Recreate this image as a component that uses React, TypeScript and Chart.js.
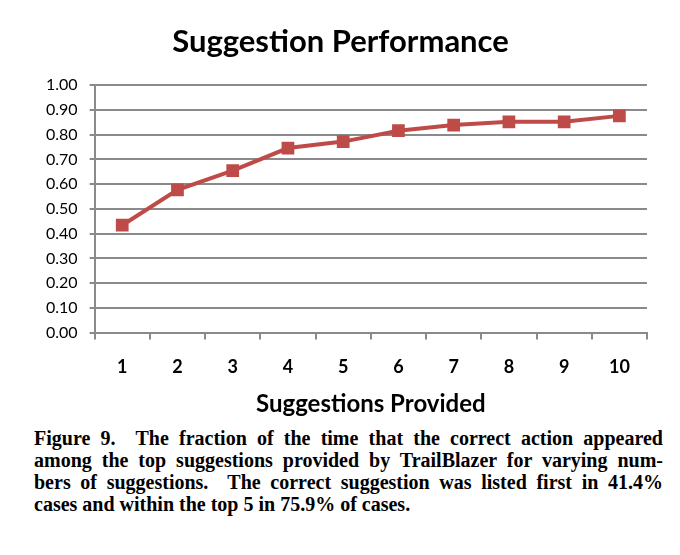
import { useEffect, useRef } from "react";
import { Chart, registerables } from "chart.js";
import type { ChartConfiguration } from "chart.js";

Chart.register(...registerables);

const suggestions = ["1", "2", "3", "4", "5", "6", "7", "8", "9", "10"];
const performance = [0.434, 0.577, 0.655, 0.746, 0.772, 0.816, 0.839, 0.852, 0.852, 0.876];

const captionLines = [
  "Figure 9.  The fraction of the time that the correct action appeared",
  "among the top suggestions provided by TrailBlazer for varying num-",
  "bers of suggestions.  The correct suggestion was listed first in 41.4%",
  "cases and within the top 5 in 75.9% of cases.",
];

const GRID = "#8a8a8a";
const RED = "#be4b48";
const FONT = "Lato, 'Open Sans', sans-serif";

function SuggestionChart() {
  const canvasRef = useRef<HTMLCanvasElement>(null);
  const chartRef = useRef<Chart | null>(null);

  useEffect(() => {
    if (!canvasRef.current) return;
    if (chartRef.current) chartRef.current.destroy();

    const config: ChartConfiguration = {
      type: "line",
      data: {
        labels: suggestions,
        datasets: [
          {
            label: "Performance",
            data: performance,
            borderColor: RED,
            backgroundColor: RED,
            borderWidth: 4,
            pointStyle: "rect",
            pointRadius: 9,
            pointBorderWidth: 0,
            pointBackgroundColor: RED,
            tension: 0,
          },
        ],
      },
      options: {
        responsive: true,
        maintainAspectRatio: false,
        animation: false,
        layout: { padding: { left: 34, right: 33, top: 0, bottom: 0 } },
        plugins: {
          legend: { display: false },
          tooltip: { enabled: false },
          title: {
            display: true,
            text: "Suggestion Performance",
            color: "#000",
            font: { family: FONT, size: 31, weight: "bold" },
            padding: { top: 23, bottom: 25 },
          },
        },
        scales: {
          x: {
            offset: true,
            grid: {
              offset: true,
              drawOnChartArea: false,
              drawTicks: true,
              tickLength: 7,
              color: GRID,
              lineWidth: 2,
            },
            border: { color: GRID, width: 2 },
            ticks: {
              color: "#000",
              padding: 17,
              font: { family: FONT, size: 18, weight: "bold" },
            },
            title: {
              display: true,
              text: "Suggestions Provided",
              color: "#000",
              font: { family: FONT, size: 24, weight: "bold" },
              padding: { top: -5, bottom: 0 },
            },
          },
          y: {
            min: 0,
            max: 1,
            grid: {
              color: GRID,
              lineWidth: 2,
              tickLength: 5,
            },
            border: { color: GRID, width: 2 },
            ticks: {
              stepSize: 0.1,
              color: "#000",
              padding: 12,
              font: { family: FONT, size: 16 },
              callback: (v) => Number(v).toFixed(2),
            },
          },
        },
      },
    };

    chartRef.current = new Chart(canvasRef.current, config);
    return () => {
      if (chartRef.current) {
        chartRef.current.destroy();
        chartRef.current = null;
      }
    };
  }, []);

  return (
    <div style={{ position: "relative", width: 680, height: 419 }}>
      <canvas ref={canvasRef}></canvas>
    </div>
  );
}

export default function App() {
  useEffect(() => {
    document.body.style.margin = "0";
  }, []);

  return (
    <div style={{ width: 680, height: 555, background: "#fff" }}>
      <SuggestionChart />
      <div
        style={{
          marginTop: 8,
          marginLeft: 34,
          width: 629,
          fontFamily: "'Liberation Serif', 'Times New Roman', serif",
          fontWeight: "bold",
          fontSize: 20,
          lineHeight: "22px",
          color: "#000",
        }}
      >
        {captionLines.map((line, i) => {
          const last = i === captionLines.length - 1;
          return (
            <div
              key={i}
              style={{
                whiteSpace: "pre",
                textAlign: last ? "left" : "justify",
                textAlignLast: last ? "left" : "justify",
              }}
            >
              {line}
            </div>
          );
        })}
      </div>
    </div>
  );
}
